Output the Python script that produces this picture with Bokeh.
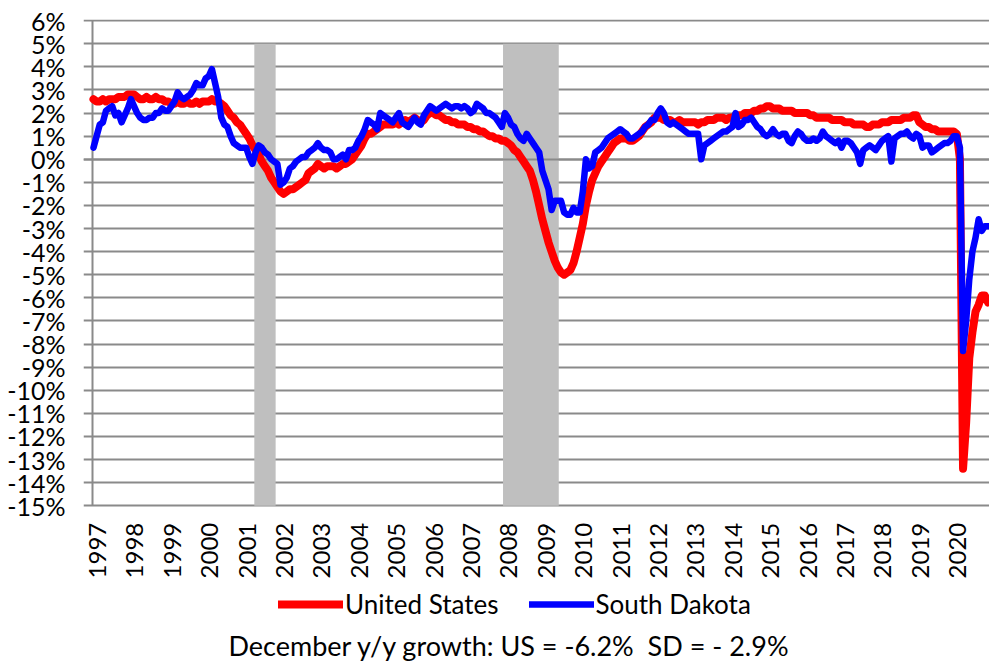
import math
from bokeh.plotting import figure
from bokeh.models import FixedTicker, Legend, LegendItem, Label, Range1d, ColumnDataSource
from bokeh.embed import file_html
from bokeh.resources import INLINE

# ---------------- data ----------------
years = list(range(1997, 2021))
year_labels = [str(y) for y in years]
months = list(range(12))

y_ticks = list(range(-15, 7))
y_tick_labels = [f"{v}%" for v in y_ticks]

# recessions (fractional years)
rec_start = [2001.30, 2007.95]
rec_end = [2001.87, 2009.44]
rec_top = [5, 5]
rec_bottom = [-15, -15]
zero_line = [0]

# United States, y/y employment growth (%), monthly Jan..Dec
us_values = [
    2.6, 2.5, 2.5, 2.6, 2.5, 2.6, 2.6, 2.6, 2.7, 2.7, 2.7, 2.8,          # 1997
    2.8, 2.8, 2.7, 2.6, 2.6, 2.7, 2.6, 2.6, 2.7, 2.6, 2.6, 2.5,          # 1998
    2.5, 2.4, 2.4, 2.5, 2.4, 2.4, 2.5, 2.4, 2.4, 2.5, 2.4, 2.5,          # 1999
    2.5, 2.5, 2.6, 2.5, 2.5, 2.4, 2.3, 2.1, 1.9, 1.8, 1.6, 1.5,          # 2000
    1.3, 1.1, 0.9, 0.6, 0.4, 0.2, -0.1, -0.3, -0.5, -0.8, -1.0, -1.2,    # 2001
    -1.4, -1.5, -1.4, -1.3, -1.3, -1.2, -1.1, -1.0, -0.9, -0.6, -0.5, -0.4,  # 2002
    -0.2, -0.3, -0.4, -0.3, -0.3, -0.3, -0.4, -0.3, -0.2, -0.2, -0.1, 0.0,   # 2003
    0.2, 0.4, 0.6, 0.9, 1.1, 1.1, 1.2, 1.3, 1.4, 1.5, 1.5, 1.5,          # 2004
    1.5, 1.6, 1.5, 1.6, 1.7, 1.6, 1.7, 1.8, 1.7, 1.6, 1.7, 1.9,          # 2005
    2.0, 2.0, 1.9, 1.9, 1.8, 1.7, 1.7, 1.6, 1.6, 1.5, 1.5, 1.5,          # 2006
    1.4, 1.4, 1.3, 1.3, 1.2, 1.2, 1.1, 1.0, 1.0, 0.9, 0.9, 0.8,          # 2007
    0.8, 0.7, 0.6, 0.4, 0.3, 0.1, -0.1, -0.3, -0.5, -0.9, -1.4, -2.0,    # 2008
    -2.6, -3.1, -3.6, -4.0, -4.4, -4.7, -4.9, -5.0, -4.9, -4.8, -4.5, -4.0,  # 2009
    -3.4, -2.8, -2.0, -1.4, -0.9, -0.6, -0.3, -0.1, 0.1, 0.3, 0.5, 0.7,  # 2010
    0.8, 0.9, 0.9, 0.9, 0.8, 0.8, 0.9, 1.0, 1.2, 1.4, 1.5, 1.6,          # 2011
    1.8, 1.8, 1.8, 1.7, 1.7, 1.7, 1.6, 1.6, 1.7, 1.6, 1.6, 1.6,          # 2012
    1.6, 1.6, 1.5, 1.6, 1.6, 1.7, 1.7, 1.7, 1.8, 1.8, 1.8, 1.7,          # 2013
    1.8, 1.8, 1.9, 1.9, 1.9, 2.0, 2.0, 2.0, 2.1, 2.1, 2.2, 2.2,          # 2014
    2.3, 2.3, 2.2, 2.2, 2.2, 2.1, 2.1, 2.1, 2.1, 2.0, 2.0, 2.0,          # 2015
    2.0, 2.0, 1.9, 1.9, 1.8, 1.8, 1.8, 1.8, 1.8, 1.7, 1.7, 1.7,          # 2016
    1.7, 1.6, 1.6, 1.6, 1.5, 1.5, 1.5, 1.5, 1.4, 1.4, 1.5, 1.5,          # 2017
    1.5, 1.6, 1.6, 1.6, 1.7, 1.7, 1.7, 1.7, 1.8, 1.8, 1.8, 1.9,          # 2018
    1.9, 1.6, 1.5, 1.4, 1.4, 1.3, 1.3, 1.2, 1.2, 1.2, 1.2, 1.2,          # 2019
    1.2, 1.1, 0.0, -13.4, -11.4, -8.6, -7.5, -6.6, -6.3, -5.9, -5.9, -6.2,  # 2020
]

# South Dakota, y/y employment growth (%), monthly Jan..Dec
sd_values = [
    0.5, 1.0, 1.5, 1.6, 2.1, 2.2, 2.3, 1.9, 2.0, 1.6, 1.9, 2.2,          # 1997
    2.6, 2.3, 2.0, 1.8, 1.7, 1.7, 1.8, 1.8, 2.0, 2.0, 2.2, 2.1,          # 1998
    2.1, 2.3, 2.5, 2.9, 2.7, 2.6, 2.7, 2.8, 3.0, 3.3, 3.2, 3.2,          # 1999
    3.5, 3.6, 3.9, 3.3, 2.7, 1.8, 1.5, 1.4, 1.0, 0.7, 0.6, 0.5,          # 2000
    0.5, 0.5, 0.1, -0.2, 0.3, 0.6, 0.5, 0.3, 0.2, 0.0, -0.1, -0.2,       # 2001
    -1.1, -1.0, -0.8, -0.4, -0.3, -0.1, 0.0, 0.1, 0.1, 0.3, 0.4, 0.5,    # 2002
    0.7, 0.5, 0.4, 0.4, 0.3, 0.0, 0.0, 0.1, 0.2, 0.0, 0.4, 0.4,          # 2003
    0.5, 0.8, 1.0, 1.3, 1.7, 1.6, 1.5, 1.3, 2.0, 1.9, 1.8, 1.7,          # 2004
    1.6, 1.8, 2.0, 1.6, 1.5, 1.4, 1.6, 1.8, 1.6, 1.5, 1.9, 2.1,          # 2005
    2.3, 2.2, 2.1, 2.2, 2.3, 2.4, 2.3, 2.2, 2.3, 2.3, 2.2, 2.3,          # 2006
    2.2, 2.0, 2.1, 2.4, 2.3, 2.2, 2.0, 2.0, 1.9, 1.8, 1.6, 1.4,          # 2007
    2.0, 1.8, 1.5, 1.4, 1.1, 0.9, 0.8, 1.1, 0.9, 0.7, 0.5, 0.3,          # 2008
    -0.5, -0.9, -1.3, -2.2, -1.8, -1.8, -1.8, -2.3, -2.4, -2.4, -2.1, -2.3,  # 2009
    -2.3, -1.4, 0.0, -0.4, -0.3, 0.3, 0.4, 0.5, 0.7, 0.9, 1.0, 1.1,      # 2010
    1.2, 1.3, 1.2, 1.1, 0.9, 0.9, 1.0, 1.1, 1.2, 1.4, 1.5, 1.7,          # 2011
    1.7, 2.0, 2.2, 2.0, 1.6, 1.5, 1.6, 1.5, 1.4, 1.3, 1.2, 1.1,          # 2012
    1.1, 1.1, 1.1, 0.0, 0.6, 0.7, 0.8, 0.9, 1.0, 1.1, 1.2, 1.2,          # 2013
    1.3, 1.4, 2.0, 1.4, 1.5, 1.7, 1.7, 1.8, 1.6, 1.4, 1.3, 1.1,          # 2014
    1.0, 1.1, 1.3, 1.1, 1.0, 1.1, 1.1, 0.8, 0.7, 1.0, 1.2, 1.1,          # 2015
    0.9, 0.8, 0.8, 0.9, 0.8, 0.9, 1.2, 1.0, 0.9, 0.8, 0.7, 0.8,          # 2016
    0.5, 0.8, 0.8, 0.7, 0.5, 0.3, -0.2, 0.4, 0.5, 0.6, 0.5, 0.4,         # 2017
    0.6, 0.8, 0.9, 1.0, -0.1, 0.9, 1.0, 1.1, 1.1, 1.2, 1.0, 0.9,         # 2018
    1.1, 1.0, 0.5, 0.6, 0.6, 0.3, 0.4, 0.5, 0.6, 0.7, 0.7, 0.8,          # 2019
    1.0, 1.0, 0.5, -8.3, -7.0, -5.2, -4.0, -3.4, -2.6, -3.1, -2.9, -2.9,  # 2020
]

series_names = ["United States", "South Dakota"]
caption_text = "December y/y growth: US = -6.2%\u00a0 SD = - 2.9%"

# month positions on a fractional-year axis
month_pos = [y + m / 12 for y in years for m in months]

# ---------------- figure ----------------
FONT = "Lato"
GRID = "#8a8a8a"
W, H = 989, 662
TOP, LEFT = 19, 83            # frame starts where the gridline stubs start
PX_PER_PCT = 23.1
PX_PER_YEAR = 37.4
FIRST_X_PX = 93               # pixel of January 1997
y_end = 6.05
y_start = y_end - (H - TOP) / PX_PER_PCT          # frame runs to the bottom edge
x_start = years[0] - (FIRST_X_PX - LEFT) / PX_PER_YEAR
x_end = years[0] + (W - FIRST_X_PX) / PX_PER_YEAR
axis_x = years[0] - 1.0 / PX_PER_YEAR             # vertical axis line, 1px left of data

p = figure(
    width=W, height=H,
    x_range=Range1d(x_start, x_end),
    y_range=Range1d(y_start, y_end),
    output_backend="svg", toolbar_location=None,
    min_border_left=LEFT, min_border_right=0, min_border_top=TOP, min_border_bottom=0,
)
p.outline_line_color = None
p.background_fill_color = "white"
p.border_fill_color = "white"

# grid
p.xgrid.grid_line_color = None
p.ygrid.ticker = FixedTicker(ticks=y_ticks)
p.ygrid.grid_line_color = GRID
p.ygrid.grid_line_width = 2

# y axis (labels only; the axis line is drawn inside the frame below)
ya = p.yaxis[0]
ya.ticker = FixedTicker(ticks=y_ticks)
ya.major_label_overrides = {v: lab for v, lab in zip(y_ticks, y_tick_labels)}
ya.axis_line_color = None
ya.major_tick_line_color = None
ya.major_tick_out = 0
ya.major_tick_in = 0
ya.minor_tick_line_color = None
ya.major_label_standoff = 18
ya.major_label_text_font = FONT
ya.major_label_text_font_size = "25px"
ya.major_label_text_color = "black"

# x axis: labels drawn as rotated text under the -15% line
p.xaxis.visible = False
p.text(x=years, y=[y_ticks[0]] * len(years), text=year_labels,
       angle=math.pi / 2, x_offset=4, y_offset=17, text_align="right", text_baseline="middle",
       text_font={"value": FONT}, text_font_size={"value": "24px"}, text_color="black")

# recession shading
p.quad(left=rec_start, right=rec_end, top=rec_top, bottom=rec_bottom,
       fill_color="#bfbfbf", line_color=None)
# zero line drawn over shading
p.hspan(y=zero_line, line_color=GRID, line_width=2)
# vertical axis line
p.segment(x0=[axis_x], y0=[y_ticks[0]], x1=[axis_x], y1=[y_ticks[-1]],
          line_color=GRID, line_width=2)

src = ColumnDataSource(dict(x=month_pos, us=us_values, sd=sd_values))
r_us = p.line("x", "us", source=src, line_color="#ff0000", line_width=8,
              line_join="round", line_cap="round")
r_sd = p.line("x", "sd", source=src, line_color="#0000ff", line_width=6.5,
              line_join="round", line_cap="round")

legend = Legend(
    items=[LegendItem(label=series_names[0], renderers=[r_us]),
           LegendItem(label=series_names[1], renderers=[r_sd])],
    orientation="horizontal", location=(195, 42),
    glyph_width=65, glyph_height=26, label_standoff=2, spacing=30,
    padding=0, margin=0, border_line_color=None, background_fill_alpha=0,
    label_text_font=FONT, label_text_font_size="26px", label_text_color="black",
)
p.add_layout(legend)

caption = Label(x=145, y=17, x_units="screen", y_units="screen",
                text=caption_text, text_align="left", text_baseline="alphabetic",
                text_font=FONT, text_font_size="27px", text_color="black")
p.add_layout(caption)

open("out.html", "w").write(file_html(p, INLINE))
